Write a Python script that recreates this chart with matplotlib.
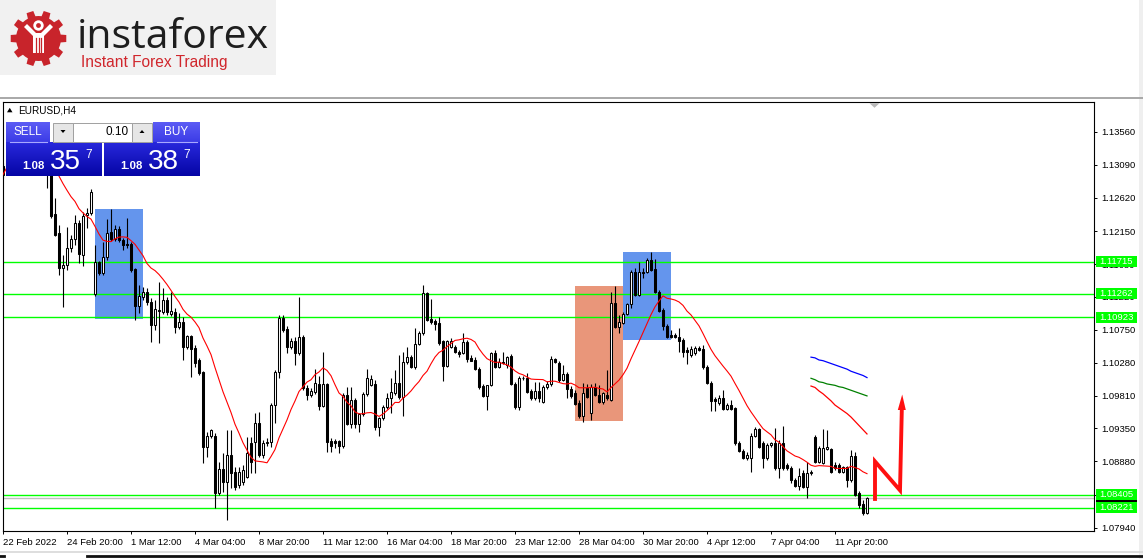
import numpy as np
import pandas as pd
import matplotlib
matplotlib.use("Agg")
import matplotlib.pyplot as plt
from matplotlib.patches import Rectangle, Polygon, Circle
from matplotlib.transforms import blended_transform_factory

# ---------------- data (EURUSD, H4) ----------------
opens = [
    1.1307, 1.1299, 1.1316, 1.1324, 1.1330, 1.1321, 1.1327, 1.1319, 1.1313, 1.1321,
    1.1316, 1.1307, 1.1299, 1.1239, 1.1212, 1.1163, 1.1167, 1.1191, 1.1204, 1.1226,
    1.1181, 1.1238, 1.1241, 1.1126, 1.1171, 1.1155, 1.1178, 1.1214, 1.1204, 1.1218,
    1.1202, 1.1197, 1.1197, 1.1161, 1.1109, 1.1121, 1.1128, 1.1114, 1.1082, 1.1103,
    1.1100, 1.1117, 1.1097, 1.1100, 1.1079, 1.1086, 1.1050, 1.1066, 1.1049, 1.1032,
    1.1015, 1.0908, 1.0924, 1.0924, 1.0843, 1.0877, 1.0859, 1.0897, 1.0873, 1.0855,
    1.0859, 1.0866, 1.0914, 1.0916, 1.0942, 1.0897, 1.0914, 1.0916, 1.0968, 1.1015,
    1.1092, 1.1076, 1.1050, 1.1059, 1.1042, 1.1065, 1.0992, 1.0982, 1.0987, 1.0998,
    1.0967, 1.0998, 1.0917, 1.0917, 1.0917, 1.0910, 1.0982, 1.0941, 1.0975, 1.0941,
    1.0955, 1.0984, 1.0996, 1.0998, 1.0937, 1.0950, 1.0965, 1.0978, 1.0985, 1.0999,
    1.0980, 1.1029, 1.1036, 1.1022, 1.1055, 1.1070, 1.1127, 1.1090, 1.1087, 1.1084,
    1.1059, 1.1023, 1.1050, 1.1050, 1.1043, 1.1042, 1.1057, 1.1035, 1.1032, 1.1019,
    1.0995, 1.0981, 1.0996, 1.1042, 1.1022, 1.1029, 1.1025, 1.1038, 1.0998, 1.0965,
    1.1006, 1.1006, 1.0988, 1.0978, 1.0988, 1.0972, 1.0994, 1.0998, 1.1034, 1.1028,
    1.1004, 1.1012, 1.0991, 1.0985, 1.0971, 1.0953, 1.0992, 1.0957, 1.0994, 1.0982,
    1.0972, 1.0982, 1.0975, 1.1113, 1.1079, 1.1085, 1.1097, 1.1111, 1.1157, 1.1124,
    1.1157, 1.1157, 1.1174, 1.1161, 1.1128, 1.1103, 1.1080, 1.1068, 1.1068, 1.1065,
    1.1060, 1.1046, 1.1039, 1.1042, 1.1049, 1.1048, 1.1022, 1.0999, 1.0977, 1.0971,
    1.0978, 1.0962, 1.0968, 1.0964, 1.0914, 1.0903, 1.0893, 1.0893, 1.0924, 1.0934,
    1.0914, 1.0893, 1.0911, 1.0914, 1.0879, 1.0914, 1.0883, 1.0879, 1.0862, 1.0853,
    1.0872, 1.0852, 1.0872, 1.0923, 1.0887, 1.0886, 1.0906, 1.0906, 1.0883, 1.0883,
    1.0873, 1.0880, 1.0862, 1.0896, 1.0843, 1.0828, 1.0815]

highs = [
    1.1312, 1.1319, 1.1330, 1.1336, 1.1340, 1.1333, 1.1337, 1.1330, 1.1327, 1.1333,
    1.1327, 1.1319, 1.1302, 1.1262, 1.1224, 1.1181, 1.1221, 1.1209, 1.1238, 1.1231,
    1.1242, 1.1248, 1.1275, 1.1195, 1.1172, 1.1199, 1.1232, 1.1246, 1.1224, 1.1222,
    1.1205, 1.1234, 1.1199, 1.1163, 1.1138, 1.1136, 1.1134, 1.1120, 1.1117, 1.1143,
    1.1134, 1.1121, 1.1128, 1.1106, 1.1099, 1.1093, 1.1067, 1.1067, 1.1053, 1.1035,
    1.1017, 1.0930, 1.0934, 1.0929, 1.0887, 1.0900, 1.0933, 1.0933, 1.0880, 1.0880,
    1.0883, 1.0923, 1.0923, 1.0957, 1.0958, 1.0918, 1.0921, 1.0971, 1.1018, 1.1096,
    1.1096, 1.1080, 1.1063, 1.1065, 1.1121, 1.1067, 1.0997, 1.0992, 1.1019, 1.1009,
    1.1043, 1.0999, 1.0921, 1.0920, 1.0918, 1.0985, 1.0994, 1.0994, 1.0978, 1.0957,
    1.0987, 1.1019, 1.1011, 1.1004, 1.0951, 1.0968, 1.0985, 1.1006, 1.1018, 1.1039,
    1.1043, 1.1050, 1.1039, 1.1077, 1.1073, 1.1138, 1.1129, 1.1119, 1.1090, 1.1093,
    1.1060, 1.1061, 1.1063, 1.1053, 1.1046, 1.1070, 1.1060, 1.1039, 1.1036, 1.1022,
    1.0998, 1.0997, 1.1043, 1.1046, 1.1035, 1.1043, 1.1038, 1.1040, 1.1001, 1.1009,
    1.1009, 1.1013, 1.0991, 1.1001, 1.1001, 1.0997, 1.1002, 1.1038, 1.1035, 1.1031,
    1.1025, 1.1015, 1.0995, 1.0989, 1.0975, 1.0999, 1.0998, 1.0998, 1.1000, 1.0997,
    1.0987, 1.1018, 1.1128, 1.1137, 1.1096, 1.1100, 1.1113, 1.1160, 1.1163, 1.1171,
    1.1163, 1.1177, 1.1185, 1.1175, 1.1131, 1.1106, 1.1083, 1.1075, 1.1070, 1.1077,
    1.1063, 1.1050, 1.1052, 1.1052, 1.1052, 1.1053, 1.1025, 1.1002, 1.0980, 1.0982,
    1.0989, 1.0971, 1.0975, 1.0965, 1.0917, 1.0906, 1.0901, 1.0928, 1.0937, 1.0935,
    1.0917, 1.0914, 1.0916, 1.0935, 1.0918, 1.0938, 1.0886, 1.0882, 1.0864, 1.0879,
    1.0876, 1.0887, 1.0876, 1.0926, 1.0910, 1.0934, 1.0933, 1.0907, 1.0887, 1.0886,
    1.0882, 1.0882, 1.0904, 1.0901, 1.0846, 1.0833, 1.0837]

lows = [
    1.1290, 1.1294, 1.1307, 1.1316, 1.1319, 1.1309, 1.1316, 1.1304, 1.1302, 1.1310,
    1.1299, 1.1276, 1.1234, 1.1208, 1.1153, 1.1107, 1.1160, 1.1185, 1.1195, 1.1170,
    1.1165, 1.1219, 1.1238, 1.1123, 1.1153, 1.1153, 1.1174, 1.1201, 1.1201, 1.1199,
    1.1188, 1.1191, 1.1157, 1.1089, 1.1099, 1.1117, 1.1110, 1.1058, 1.1075, 1.1056,
    1.1097, 1.1096, 1.1095, 1.1070, 1.1076, 1.1032, 1.1048, 1.1008, 1.1022, 1.1011,
    1.0886, 1.0894, 1.0921, 1.0822, 1.0840, 1.0845, 1.0805, 1.0850, 1.0848, 1.0850,
    1.0855, 1.0864, 1.0872, 1.0872, 1.0894, 1.0893, 1.0910, 1.0909, 1.0942, 1.1006,
    1.1072, 1.1042, 1.1048, 1.1025, 1.1039, 1.0989, 1.0975, 1.0979, 1.0984, 1.0961,
    1.0965, 1.0901, 1.0901, 1.0907, 1.0900, 1.0907, 1.0940, 1.0935, 1.0935, 1.0930,
    1.0952, 1.0981, 1.0995, 1.0933, 1.0924, 1.0947, 1.0962, 1.0957, 1.0982, 1.0977,
    1.0952, 1.1026, 1.1021, 1.1019, 1.1053, 1.1067, 1.1087, 1.1083, 1.1074, 1.1053,
    1.1002, 1.1022, 1.1049, 1.1042, 1.1036, 1.1040, 1.1029, 1.1030, 1.1018, 1.0991,
    1.0979, 1.0961, 1.0995, 1.1021, 1.1021, 1.1026, 1.1021, 1.0996, 1.0963, 1.0961,
    1.1004, 1.0985, 1.0975, 1.0975, 1.0972, 1.0971, 1.0991, 1.0995, 1.1028, 1.1001,
    1.1002, 1.0978, 1.0978, 1.0968, 1.0950, 1.0944, 1.0978, 1.0947, 1.0981, 1.0971,
    1.0969, 1.0975, 1.0974, 1.1077, 1.1070, 1.1083, 1.1096, 1.1106, 1.1123, 1.1123,
    1.1148, 1.1155, 1.1158, 1.1127, 1.1100, 1.1075, 1.1063, 1.1063, 1.1063, 1.1043,
    1.1036, 1.1026, 1.1036, 1.1039, 1.1045, 1.1019, 1.0998, 1.0960, 1.0960, 1.0968,
    1.0961, 1.0961, 1.0961, 1.0911, 1.0901, 1.0892, 1.0890, 1.0873, 1.0923, 1.0907,
    1.0879, 1.0890, 1.0908, 1.0876, 1.0865, 1.0876, 1.0876, 1.0857, 1.0852, 1.0847,
    1.0850, 1.0836, 1.0869, 1.0886, 1.0886, 1.0884, 1.0904, 1.0872, 1.0876, 1.0872,
    1.0872, 1.0852, 1.0859, 1.0839, 1.0822, 1.0812, 1.0814]

closes = [
    1.1295, 1.1316, 1.1324, 1.1330, 1.1321, 1.1327, 1.1319, 1.1313, 1.1321, 1.1316,
    1.1307, 1.1299, 1.1236, 1.1209, 1.1163, 1.1167, 1.1191, 1.1204, 1.1226, 1.1182,
    1.1236, 1.1241, 1.1270, 1.1171, 1.1155, 1.1178, 1.1212, 1.1204, 1.1218, 1.1202,
    1.1195, 1.1195, 1.1160, 1.1109, 1.1123, 1.1128, 1.1114, 1.1082, 1.1104, 1.1101,
    1.1117, 1.1100, 1.1101, 1.1079, 1.1086, 1.1050, 1.1066, 1.1048, 1.1028, 1.1014,
    1.0908, 1.0924, 1.0933, 1.0843, 1.0877, 1.0859, 1.0897, 1.0872, 1.0852, 1.0873,
    1.0876, 1.0900, 1.0887, 1.0942, 1.0897, 1.0914, 1.0916, 1.0968, 1.1015, 1.1092,
    1.1075, 1.1050, 1.1059, 1.1042, 1.1065, 1.0992, 1.0982, 1.0988, 1.0999, 1.0967,
    1.0998, 1.0916, 1.0910, 1.0914, 1.0910, 1.0982, 1.0941, 1.0975, 1.0941, 1.0955,
    1.0984, 1.1006, 1.1005, 1.0937, 1.0950, 1.0965, 1.0978, 1.0987, 1.0999, 1.0980,
    1.1029, 1.1036, 1.1022, 1.1055, 1.1070, 1.1127, 1.1089, 1.1086, 1.1083, 1.1056,
    1.1023, 1.1059, 1.1059, 1.1043, 1.1040, 1.1057, 1.1033, 1.1031, 1.1019, 1.0994,
    1.0981, 1.0996, 1.1042, 1.1022, 1.1029, 1.1028, 1.1036, 1.0998, 1.0965, 1.1006,
    1.1007, 1.0987, 1.0978, 1.0988, 1.0978, 1.0994, 1.0998, 1.1034, 1.1029, 1.1004,
    1.1012, 1.0991, 1.0981, 1.0970, 1.0953, 1.0985, 1.0979, 1.0994, 1.0982, 1.0972,
    1.0985, 1.0978, 1.1113, 1.1079, 1.1086, 1.1097, 1.1111, 1.1157, 1.1124, 1.1157,
    1.1155, 1.1174, 1.1160, 1.1128, 1.1101, 1.1080, 1.1065, 1.1065, 1.1065, 1.1059,
    1.1043, 1.1043, 1.1048, 1.1049, 1.1046, 1.1022, 1.0999, 1.0974, 1.0974, 1.0978,
    1.0962, 1.0968, 1.0962, 1.0914, 1.0903, 1.0893, 1.0897, 1.0924, 1.0934, 1.0908,
    1.0893, 1.0911, 1.0914, 1.0879, 1.0914, 1.0879, 1.0879, 1.0862, 1.0853, 1.0867,
    1.0852, 1.0872, 1.0873, 1.0887, 1.0907, 1.0907, 1.0908, 1.0873, 1.0879, 1.0873,
    1.0880, 1.0862, 1.0896, 1.0840, 1.0826, 1.0815, 1.0836]

ma_period = 14

# x-axis date labels (bar index of each label)
date_labels = ['22 Feb 2022', '24 Feb 20:00', '1 Mar 12:00', '4 Mar 04:00', '8 Mar 20:00',
               '11 Mar 12:00', '16 Mar 04:00', '18 Mar 20:00', '23 Mar 12:00', '28 Mar 04:00',
               '30 Mar 20:00', '4 Apr 12:00', '7 Apr 04:00', '11 Apr 20:00']
date_bars = [0, 16, 32, 48, 64, 80, 96, 112, 128, 144, 160, 176, 192, 208]

# price scale
price_ticks = [1.13560, 1.13090, 1.12620, 1.12150, 1.11680, 1.11220, 1.10750,
               1.10280, 1.09810, 1.09350, 1.08880, 1.08410, 1.07940]
price_min, price_max = 1.07897, 1.13977

# horizontal levels
green_levels = [1.11715, 1.11262, 1.10923, 1.08405, 1.08221]
bid_price = 1.08357

# zones (rectangles)
zone_start = [23.0, 143.0, 155.0]
zone_end = [35.0, 155.0, 167.0]
zone_top = [1.1246, 1.1137, 1.1185]
zone_bottom = [1.1090, 1.0945, 1.1060]
zone_colors = ['#6495ED', '#E9967A', '#6495ED']

# short indicator segments on the right
seg_bars = list(range(202, 217))
seg_blue = [1.1036, 1.1035, 1.1032, 1.1031, 1.1029, 1.1027, 1.1025, 1.1023,
            1.1021, 1.1019, 1.1016, 1.1014, 1.1012, 1.1010, 1.1007]
seg_green = [1.1006, 1.1004, 1.1001, 1.1000, 1.0998, 1.0997, 1.0996, 1.0994,
             1.0993, 1.0991, 1.0989, 1.0987, 1.0985, 1.0983, 1.0981]
seg_red = [1.0995, 1.0993, 1.0988, 1.0984, 1.0979, 1.0974, 1.0968, 1.0964,
           1.0960, 1.0956, 1.0951, 1.0945, 1.0939, 1.0933, 1.0927]

# forecast arrow
arrow_bars = [218.0, 218.0, 224.25, 224.7]
arrow_prices = [1.0832, 1.0888, 1.0847, 1.0961]
arrow_tip = (224.8, 1.0983)

# ---------------- figure ----------------
W, H = 1143, 559
plt.rcParams['font.family'] = ['Liberation Sans', 'DejaVu Sans']
fig = plt.figure(figsize=(W / 100, H / 100), dpi=100)
fig.patch.set_facecolor('white')

L_PX, R_PX, T_PX, B_PX = 2.7, 1094.0, 102.3, 530.7
ax = fig.add_axes([L_PX / W, 1 - B_PX / H, (R_PX - L_PX) / W, (B_PX - T_PX) / H])
x_left = -0.075
ax.set_xlim(x_left, x_left + (R_PX - L_PX) / 4.0)
ax.set_ylim(price_min, price_max)
ax.set_facecolor('white')
for s in ax.spines.values():
    s.set_color('black')
    s.set_linewidth(0.8)

o = np.array(opens); h = np.array(highs); l = np.array(lows); c = np.array(closes)
idx = np.arange(len(c))

# zones
for xs, xe, yt, yb, col in zip(zone_start, zone_end, zone_top, zone_bottom, zone_colors):
    ax.add_patch(Rectangle((xs, yb), xe - xs, yt - yb, facecolor=col, edgecolor='none', zorder=1))

# levels
for lv in green_levels:
    ax.axhline(lv, color='#00ff00', lw=1.0, zorder=2)
ax.axhline(bid_price, color='#c0c0c0', lw=1.0, zorder=2)

# candles
ax.vlines(idx, l, h, color='black', lw=0.8, zorder=3)
up = c >= o
bottoms = np.minimum(o, c)
heights = np.maximum(np.abs(c - o), 0.00003)
ax.bar(idx[up], heights[up], bottom=bottoms[up], width=0.55, color='white',
       edgecolor='black', lw=0.75, zorder=4)
ax.bar(idx[~up], heights[~up], bottom=bottoms[~up], width=0.55, color='black',
       edgecolor='black', lw=0.75, zorder=4)

# moving average
ma = pd.Series(c).rolling(ma_period, min_periods=1).mean()
ax.plot(idx, ma, color='#ff0000', lw=0.8, zorder=5)

# right segments
ax.plot(seg_bars, seg_blue, color='#0000ff', lw=0.9, zorder=5)
ax.plot(seg_bars, seg_green, color='#008000', lw=0.9, zorder=5)
ax.plot(seg_bars, seg_red, color='#ff0000', lw=0.9, zorder=5)

# arrow
ax.plot(arrow_bars, arrow_prices, color='#ff1010', lw=2.8, solid_joinstyle='miter',
        solid_capstyle='butt', zorder=6)
hx = [arrow_bars[-1] - 1.0, arrow_bars[-1] + 1.0, arrow_tip[0]]
hy = [arrow_prices[-1], arrow_prices[-1], arrow_tip[1]]
ax.fill(hx, hy, color='#ff1010', zorder=6, lw=0)

# ticks
ax.yaxis.tick_right()
ax.set_yticks(price_ticks)
ax.set_yticklabels([f"{v:.5f}" for v in price_ticks])
ax.tick_params(axis='y', direction='out', length=2.5, width=0.7, pad=2.5,
               labelsize=6.8, colors='black')
ax.set_xticks(date_bars)
ax.set_xticklabels(date_labels, ha='left')
ax.tick_params(axis='x', direction='out', length=2.5, width=0.7, pad=2.5,
               labelsize=6.8, colors='black')

# price labels on the axis
trans = blended_transform_factory(ax.transAxes, ax.transData)
bw = 41.0 / (R_PX - L_PX)
bh = 11.0 / ((B_PX - T_PX) / (price_max - price_min))
ax.add_patch(Rectangle((1.0015, bid_price - bh / 2), bw, bh, transform=trans,
                       facecolor='black', edgecolor='none', clip_on=False, zorder=8))
for lv in green_levels:
    ax.add_patch(Rectangle((1.0015, lv - bh / 2), bw, bh, transform=trans,
                           facecolor='#00ff00', edgecolor='none', clip_on=False, zorder=9))
    ax.text(1.0015 + bw / 2, lv, f"{lv:.5f}", transform=trans, ha='center', va='center',
            color='white', fontsize=6.8, clip_on=False, zorder=10)

# ---------------- overlay (decorations) ----------------
ov = fig.add_axes([0, 0, 1, 1], zorder=10)
ov.patch.set_alpha(0)
ov.axis('off')


def grad_box(x0, y0, x1, y1, ctop, cbot, z=11):
    g = np.linspace(0, 1, 64)[:, None, None]
    ct = np.array(ctop)[None, None, :] / 255.0
    cb = np.array(cbot)[None, None, :] / 255.0
    img = ct * (1 - g) + cb * g
    img = np.repeat(img, 2, axis=1)
    ov.imshow(img, extent=(x0, x1, y1, y0), aspect='auto', zorder=z, interpolation='bilinear')


# top gray separator line and chart shift marker
ov.plot([0, W], [98.3, 98.3], color='#a8a8a8', lw=1.4, zorder=5)
ov.add_patch(Polygon([(869.5, 103.2), (879.5, 103.2), (874.5, 107.8)], closed=True,
                     facecolor='#b8b8b8', edgecolor='none', zorder=5))

# right strip and bottom lines
ov.add_patch(Rectangle((1139, 0), 4, H, facecolor='#efefef', edgecolor='none', zorder=4))
ov.plot([0, W], [551.8, 551.8], color='#d8d8d8', lw=1.2, zorder=5)
ov.plot([87, W], [555.6, 555.6], color='#101010', lw=2.0, zorder=5)
ov.plot([0, 4], [555.6, 555.6], color='#101010', lw=2.0, zorder=5)

# logo
ov.add_patch(Rectangle((0, 0), 276, 75, facecolor='#f1f1f1', edgecolor='none', zorder=5))
cx, cy, r_out, r_in, nt = 38.5, 38.5, 28.0, 22.5, 10
pts = []
step = 2 * np.pi / nt
for k in range(nt):
    a0 = k * step - np.pi / 2
    for frac, r in [(0.0, r_in), (0.22, r_in), (0.30, r_out), (0.70, r_out), (0.78, r_in)]:
        a = a0 + frac * step
        pts.append((cx + r * np.cos(a), cy + r * np.sin(a)))
ov.add_patch(Polygon(pts, closed=True, facecolor='#c8242b', edgecolor='none', zorder=6))
# stylised figure inside the gear
ov.add_patch(Polygon([(24, 27), (27, 24), (36, 33), (41, 33), (50, 24), (53, 27),
                      (44, 36), (44, 53), (33, 53), (33, 36)], closed=True,
                     facecolor='white', edgecolor='none', zorder=7))
ov.add_patch(Circle((38.5, 25.5), 5.2, facecolor='white', edgecolor='none', zorder=7))
ov.add_patch(Circle((38.5, 25.5), 2.4, facecolor='#c8242b', edgecolor='none', zorder=8))
for xs in (35.8, 38.5, 41.2):
    ov.plot([xs, xs], [38, 53], color='#c8242b', lw=0.9, zorder=8)
ov.text(77, 47.5, 'instaforex', fontsize=29.5, family=['Open Sans', 'DejaVu Sans'],
        color='#1e1e1e', va='baseline', ha='left', zorder=8)
ov.text(81, 66.5, 'Instant Forex Trading', fontsize=11.2, family=['Liberation Sans'],
        color='#d0262c', va='baseline', ha='left', zorder=8)

# symbol label
ov.add_patch(Polygon([(7, 112.3), (12.5, 112.3), (9.75, 107.8)], closed=True,
                     facecolor='black', edgecolor='none', zorder=12))
ov.text(18, 110.3, 'EURUSD,H4', fontsize=7.2, va='center', ha='left', color='black', zorder=12)

# one-click trading panel
grad_box(6, 122, 50, 142, (92, 92, 245), (60, 60, 230))
grad_box(153, 122, 200, 142, (92, 92, 245), (60, 60, 230))
grad_box(6, 142, 102, 176, (40, 40, 220), (5, 5, 165))
grad_box(104, 142, 199.5, 176, (40, 40, 220), (5, 5, 165))
ov.plot([10, 47], [141.5, 141.5], color='#a8a8ff', lw=0.8, zorder=12)
ov.plot([157, 197], [141.5, 141.5], color='#a8a8ff', lw=0.8, zorder=12)
ov.text(28, 132.3, 'SELL', fontsize=8.5, color='white', ha='center', va='center', zorder=13)
ov.text(176.5, 132.3, 'BUY', fontsize=8.5, color='white', ha='center', va='center', zorder=13)
ov.add_patch(Rectangle((53, 122.5), 20, 19, facecolor='#e6e6e6', edgecolor='#a0a0a0', lw=0.7, zorder=12))
ov.add_patch(Rectangle((73, 122.5), 59, 19, facecolor='white', edgecolor='#a0a0a0', lw=0.7, zorder=12))
ov.add_patch(Rectangle((132, 122.5), 20, 19, facecolor='#e6e6e6', edgecolor='#a0a0a0', lw=0.7, zorder=12))
ov.add_patch(Polygon([(60.5, 130), (65.5, 130), (63, 133)], closed=True, facecolor='black', zorder=13))
ov.add_patch(Polygon([(139.5, 133), (144.5, 133), (142, 130)], closed=True, facecolor='black', zorder=13))
ov.text(128.5, 132, '0.10', fontsize=8.5, color='black', ha='right', va='center', zorder=13)
for big, xs in (('35', 6), ('38', 104)):
    ov.text(xs + 27, 169, '1.08', fontsize=8.2, color='white', ha='center', va='baseline',
            fontweight='bold', zorder=13)
    ov.text(xs + 59.5, 169, big, fontsize=20, color='white', ha='center', va='baseline', zorder=13)
    ov.text(xs + 82.5, 157.5, '7', fontsize=8.5, color='white', ha='center', va='baseline', zorder=13)

ov.set_xlim(0, W)
ov.set_ylim(H, 0)

fig.savefig('out.png', dpi=100)
